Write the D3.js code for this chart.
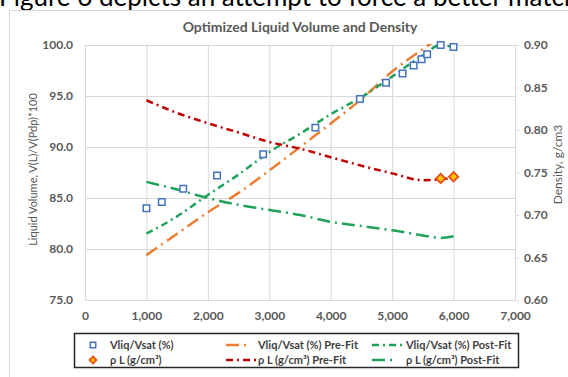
<!DOCTYPE html>
<html>
<head>
<meta charset="utf-8">
<script src="https://cdn.jsdelivr.net/npm/d3@7"></script>
<style>
  body { margin: 0; background: #fff; }
  svg { display: block; font-family: Lato, 'Open Sans', sans-serif; }
</style>
</head>
<body>
<div id="chart"></div>
<script>
// measured points
const vliqPressure = [1000, 1250, 1600, 2150, 2900, 3750, 4475, 4900, 5170, 5350, 5480, 5570, 5790, 6000];
const vliqMeasured = [84.0, 84.6, 85.9, 87.2, 89.3, 91.9, 94.7, 96.3, 97.2, 98.0, 98.6, 99.1, 100.0, 99.8];
const densPressure = [5790, 6000];
const densMeasured = [0.743, 0.745];

// model curves
const fitPressure = [1000, 1500, 2000, 2500, 3000, 3500, 4000, 4500, 5000, 5500, 5790, 6000];
const vliqPreFit = [79.4, 81.5, 83.6, 85.5, 87.7, 90.0, 92.3, 94.7, 97.4, 99.6, 100.8, 101.8];
const vliqPostFit = [81.5, 83.2, 85.3, 87.3, 89.5, 91.3, 93.2, 94.9, 96.9, 99.0, 100.0, 99.8];
const densPreFit = [0.835, 0.820, 0.808, 0.797, 0.786, 0.778, 0.768, 0.758, 0.749, 0.741, 0.742, 0.744];
const densPostFit = [0.739, 0.730, 0.720, 0.712, 0.706, 0.700, 0.692, 0.687, 0.682, 0.676, 0.673, 0.675];

// axes
const xTicks = [0, 1000, 2000, 3000, 4000, 5000, 6000, 7000];
const leftTicks = [75, 80, 85, 90, 95, 100];
const rightTicks = [0.60, 0.65, 0.70, 0.75, 0.80, 0.85, 0.90];

const legendItems = [
  { label: 'Vliq/Vsat (%)', type: 'square' },
  { label: 'Vliq/Vsat (%) Pre-Fit', type: 'line', color: '#ED7D31', dash: '13,5,2,5', len: 22 },
  { label: 'Vliq/Vsat (%) Post-Fit', type: 'line', color: '#1FA35A', dash: '7,4,2,4', len: 32 },
  { label: 'ρ L (g/cm³)', type: 'diamond' },
  { label: 'ρ L (g/cm³) Pre-Fit', type: 'line', color: '#C00000', dash: '7,4,2,4', len: 32 },
  { label: 'ρ L (g/cm³) Post-Fit', type: 'line', color: '#1FA35A', dash: '13,5,2,5', len: 22 }
];

const width = 568, height = 377;
const plot = { left: 85, right: 515, top: 45, bottom: 300 };
const grey = '#595959';

const svg = d3.select('#chart').append('svg')
  .attr('width', width)
  .attr('height', height);

// text of the page behind the chart (cut off at the top in the picture)
svg.append('text')
  .attr('x', -1)
  .attr('y', 6)
  .attr('font-size', 26)
  .attr('font-family', 'Lato, sans-serif')
  .attr('fill', '#000')
  .text('Figure 6 depicts an attempt to force a better match');

svg.append('rect')
  .attr('x', 9.5).attr('y', 10.5)
  .attr('width', 600).attr('height', 400)
  .attr('fill', '#fff')
  .attr('stroke', '#d9d9d9');

const x = d3.scaleLinear().domain([0, 7000]).range([plot.left, plot.right]);
const yL = d3.scaleLinear().domain([75, 100]).range([plot.bottom, plot.top]);
const yR = d3.scaleLinear().domain([0.60, 0.90]).range([plot.bottom, plot.top]);

// gridlines
svg.append('g')
  .attr('transform', 'translate(0,' + plot.bottom + ')')
  .call(d3.axisBottom(x).tickValues(xTicks).tickSize(-(plot.bottom - plot.top)).tickFormat(''))
  .call(g => g.select('.domain').remove())
  .call(g => g.selectAll('line').attr('stroke', '#d9d9d9'));

svg.append('g')
  .attr('transform', 'translate(' + plot.left + ',0)')
  .call(d3.axisLeft(yL).tickValues(leftTicks).tickSize(-(plot.right - plot.left)).tickFormat(''))
  .call(g => g.select('.domain').remove())
  .call(g => g.selectAll('line').attr('stroke', '#d9d9d9'));

// axis labels
const xAxis = svg.append('g')
  .attr('transform', 'translate(0,' + plot.bottom + ')')
  .call(d3.axisBottom(x).tickValues(xTicks).tickSize(0).tickPadding(11).tickFormat(d3.format(',')));
xAxis.select('.domain').attr('stroke', '#d9d9d9');

const leftAxis = svg.append('g')
  .attr('transform', 'translate(' + plot.left + ',0)')
  .call(d3.axisLeft(yL).tickValues(leftTicks).tickSize(0).tickPadding(12).tickFormat(d3.format('.1f')));
leftAxis.select('.domain').attr('stroke', '#d9d9d9');

const rightAxis = svg.append('g')
  .attr('transform', 'translate(' + plot.right + ',0)')
  .call(d3.axisRight(yR).tickValues(rightTicks).tickSize(4).tickPadding(5).tickFormat(d3.format('.2f')));
rightAxis.select('.domain').attr('stroke', '#d9d9d9');
rightAxis.selectAll('line').attr('stroke', '#d9d9d9');

svg.selectAll('.tick text')
  .attr('fill', grey)
  .attr('font-size', 12)
  .attr('font-weight', 'bold')
  .attr('font-family', 'Lato, sans-serif');

svg.append('text')
  .attr('transform', 'translate(37,' + ((plot.top + plot.bottom) / 2 - 3) + ') rotate(-90)')
  .attr('text-anchor', 'middle')
  .attr('font-size', 11)
  .attr('fill', grey)
  .text('Liquid Volume, V(L)/V(Pdp)*100');

svg.append('text')
  .attr('transform', 'translate(562,' + ((plot.top + plot.bottom) / 2 - 8) + ') rotate(-90)')
  .attr('text-anchor', 'middle')
  .attr('font-size', 12)
  .attr('fill', grey)
  .text('Density, g/cm3');

svg.append('text')
  .attr('x', (plot.left + plot.right) / 2)
  .attr('y', 32)
  .attr('text-anchor', 'middle')
  .attr('font-size', 14)
  .attr('font-weight', 'bold')
  .attr('fill', grey)
  .text('Optimized Liquid Volume and Density');

// plot lines, clipped to plot area
svg.append('clipPath').attr('id', 'plot-clip')
  .append('rect')
  .attr('x', plot.left).attr('y', plot.top - 1)
  .attr('width', plot.right - plot.left).attr('height', plot.bottom - plot.top + 1);

const lines = svg.append('g').attr('clip-path', 'url(#plot-clip)');

const drawLine = (values, yScale, color, dash) => {
  const line = d3.line()
    .x((d, i) => x(fitPressure[i]))
    .y(d => yScale(d))
    .curve(d3.curveMonotoneX);
  lines.append('path')
    .datum(values)
    .attr('d', line)
    .attr('fill', 'none')
    .attr('stroke', color)
    .attr('stroke-width', 2.5)
    .attr('stroke-dasharray', dash);
};

drawLine(vliqPreFit, yL, '#ED7D31', '13,5,2,5');
drawLine(vliqPostFit, yL, '#1FA35A', '7,4,2,4');
drawLine(densPreFit, yR, '#C00000', '7,4,2,4');
drawLine(densPostFit, yR, '#1FA35A', '13,5,2,5');

// markers
const square = d3.symbol().type(d3.symbolSquare).size(42);
const diamond = d3.symbol().type(d3.symbolSquare).size(44);

svg.append('g').selectAll('path')
  .data(vliqMeasured)
  .join('path')
  .attr('d', square)
  .attr('transform', (d, i) => 'translate(' + x(vliqPressure[i]) + ',' + yL(d) + ')')
  .attr('fill', '#fff')
  .attr('stroke', '#4472C4')
  .attr('stroke-width', 1.5);

svg.append('g').selectAll('path')
  .data(densMeasured)
  .join('path')
  .attr('d', diamond)
  .attr('transform', (d, i) => 'translate(' + x(densPressure[i]) + ',' + yR(d) + ') rotate(45)')
  .attr('fill', '#FFC000')
  .attr('stroke', '#E8501A')
  .attr('stroke-width', 1.8);

// legend
const legend = svg.append('g');
legend.append('rect')
  .attr('x', 74.5).attr('y', 333.5)
  .attr('width', 444).attr('height', 34)
  .attr('fill', '#fff')
  .attr('stroke', '#262626')
  .attr('stroke-width', 1.5);

const colX = [93, 226, 372];
const textX = [110, 258, 406];
const rowY = [345, 360];

legendItems.forEach((item, i) => {
  const col = i % 3, row = Math.floor(i / 3);
  const cy = rowY[row];
  if (item.type === 'square') {
    legend.append('path').attr('d', d3.symbol().type(d3.symbolSquare).size(30))
      .attr('transform', 'translate(' + colX[col] + ',' + cy + ')')
      .attr('fill', '#fff').attr('stroke', '#4472C4').attr('stroke-width', 1.5);
  } else if (item.type === 'diamond') {
    legend.append('path').attr('d', d3.symbol().type(d3.symbolSquare).size(24))
      .attr('transform', 'translate(' + colX[col] + ',' + cy + ') rotate(45)')
      .attr('fill', '#FFC000').attr('stroke', '#E8501A').attr('stroke-width', 1.8);
  } else {
    legend.append('line')
      .attr('x1', colX[col]).attr('x2', colX[col] + item.len)
      .attr('y1', cy).attr('y2', cy)
      .attr('stroke', item.color).attr('stroke-width', 2.5)
      .attr('stroke-dasharray', item.dash);
  }
  legend.append('text')
    .attr('x', textX[col])
    .attr('y', cy + 4)
    .attr('font-size', 11)
    .attr('font-weight', 'bold')
    .attr('fill', '#404040')
    .text(item.label);
});
</script>
</body>
</html>
